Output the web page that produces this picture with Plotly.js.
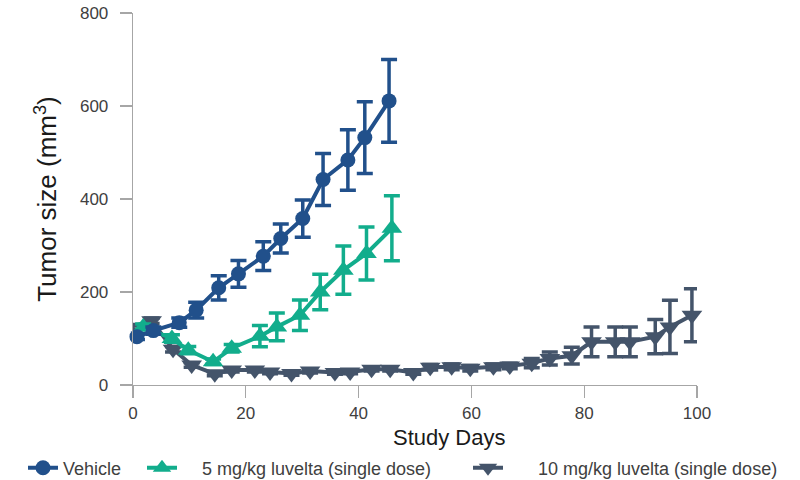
<!DOCTYPE html>
<html>
<head>
<meta charset="utf-8">
<script src="https://cdn.plot.ly/plotly-3.0.1.min.js"></script>
<style>html,body{margin:0;padding:0;background:#fff;}#chart{width:800px;height:480px;}</style>
</head>
<body>
<div id="chart"></div>
<script>
// Vehicle
var vehicleDays = [0.7, 3.6, 8.2, 11.2, 15.2, 18.7, 23.1, 26.2, 30.1, 33.7, 38.1, 41.1, 45.4];
var vehicleSize = [104, 117, 134, 161, 209, 239, 277, 315, 358, 442, 484, 532, 611];
var vehicleErr  = [6, 8, 10, 17, 26, 29, 31, 31, 40, 56, 65, 77, 89];

// 5 mg/kg luvelta (single dose)
var dose5Days = [1.8, 6.9, 9.8, 14.2, 17.5, 22.5, 25.5, 29.6, 33.2, 37.3, 41.4, 45.9];
var dose5Size = [125, 100, 75, 50, 79, 105, 125, 150, 200, 247, 283, 337];
var dose5Err  = [6, 8, 8, 6, 8, 23, 30, 33, 38, 52, 57, 70];

// 10 mg/kg luvelta (single dose)
var dose10Days = [-0.4, 3.3, 7.1, 10.4, 14.5, 17.5, 21.6, 24.3, 28.1, 31.4, 35.8, 38.5, 42.3, 45.6, 49.7, 52.7, 56.5, 59.8, 63.9, 66.8, 70.7, 73.9, 77.8, 81.3, 85.5, 88.1, 92.6, 95.2, 99.1];
var dose10Size = [125, 138, 77, 43, 24, 32, 32, 28, 25, 30, 27, 28, 34, 34, 27, 38, 39, 36, 39, 41, 47, 57, 63, 93, 93, 93, 104, 125, 150];
var dose10Err  = [5, 6, 6, 5, 4, 4, 4, 4, 4, 4, 4, 4, 4, 4, 4, 6, 6, 6, 6, 6, 10, 14, 18, 32, 32, 32, 37, 57, 57];

var seriesNames = ['Vehicle', '5 mg/kg luvelta (single dose)', '10 mg/kg luvelta (single dose)'];
var xTickVals = [0, 20, 40, 60, 80, 100];
var yTickVals = [0, 200, 400, 600, 800];

var cVeh = '#21508b', c5 = '#12ad8c', c10 = '#44546a';
var NB = '\u00a0';

function tr(x, y, e, name, color, symbol, size, leg) {
  return {
    x: x, y: y, name: name, type: 'scatter', mode: 'lines+markers',
    cliponaxis: false, legend: leg,
    line: {color: color, width: 4},
    marker: {color: color, symbol: symbol, size: size},
    error_y: {type: 'data', array: e, visible: true, color: color, thickness: 3.5, width: 8}
  };
}

var data = [
  tr(dose10Days, dose10Size, dose10Err, NB + NB + NB + NB + NB + NB + seriesNames[2], c10, 'triangle-down', 18, 'legend3'),
  tr(dose5Days, dose5Size, dose5Err, NB + NB + NB + NB + seriesNames[1], c5, 'triangle-up', 18, 'legend2'),
  tr(vehicleDays, vehicleSize, vehicleErr, seriesNames[0], cVeh, 'circle', 15, 'legend')
];

function leg(px) {
  return {orientation: 'h', xref: 'container', x: px / 800, xanchor: 'left',
          yref: 'container', y: 0.025, yanchor: 'middle',
          font: {size: 18, color: '#404040'}, bgcolor: 'rgba(0,0,0,0)'};
}

var axisCol = '#a6a6a6';
var layout = {
  width: 800, height: 480,
  margin: {l: 133, r: 103, t: 13, b: 95},
  paper_bgcolor: '#fff', plot_bgcolor: '#fff',
  font: {family: 'Liberation Sans, Arial, sans-serif', color: '#404040'},
  showlegend: true,
  legend: leg(23),
  legend2: leg(142),
  legend3: leg(468),
  xaxis: {range: [0, 100], tickvals: xTickVals, showgrid: false, zeroline: false,
          showline: true, linecolor: axisCol, linewidth: 1.3,
          ticks: 'outside', ticklen: 12, tickcolor: axisCol, tickwidth: 1.3,
          tickfont: {size: 17, color: '#404040'}},
  yaxis: {range: [0, 800], tickvals: yTickVals, showgrid: false, zeroline: false,
          showline: true, linecolor: axisCol, linewidth: 1.3,
          ticks: 'outside', ticklen: 12, tickcolor: axisCol, tickwidth: 1.3,
          ticklabelstandoff: 8,
          tickfont: {size: 17, color: '#404040'},
          title: {text: 'Tumor size (mm<sup>3</sup>)', font: {size: 26, color: '#1a1a1a'}, standoff: 15}},
  annotations: [{text: 'Study Days', xref: 'paper', yref: 'paper', x: 0.562, y: -0.14,
                 xanchor: 'center', yanchor: 'middle', showarrow: false,
                 font: {size: 22, color: '#1a1a1a'}}]
};

Plotly.newPlot('chart', data, layout, {displayModeBar: false, staticPlot: true});
</script>
</body>
</html>
